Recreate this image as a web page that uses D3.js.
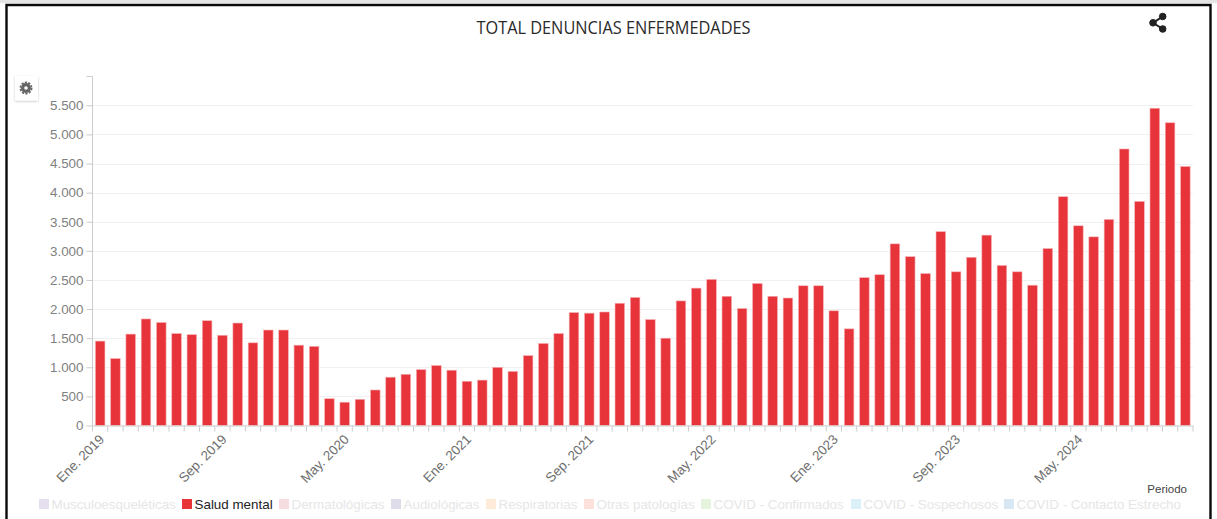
<!DOCTYPE html>
<html><head><meta charset="utf-8">
<script src="https://cdn.jsdelivr.net/npm/d3@7/dist/d3.min.js"></script>
<style>
html,body{margin:0;padding:0;background:#fff;overflow:hidden}
svg{display:block}
text{font-family:"Liberation Sans",Arial,sans-serif}
</style></head><body>
<svg id="c" width="1217" height="519"></svg>
<script>
const chartTitle = "TOTAL DENUNCIAS ENFERMEDADES";
const months = ["Ene.","Feb.","Mar.","Abr.","May.","Jun.","Jul.","Ago.","Sep.","Oct.","Nov.","Dic."];
const years = [2019,2020,2021,2022,2023,2024];
const saludMental = [1450,1150,1570,1830,1770,1580,1560,1800,1550,1760,1420,1640,
  1640,1380,1360,460,400,450,610,830,880,960,1030,950,
  760,780,1000,930,1200,1410,1580,1940,1930,1950,2100,2200,
  1820,1500,2140,2360,2510,2220,2010,2440,2220,2190,2400,2400,
  1970,1660,2540,2590,3120,2900,2610,3330,2640,2890,3270,2750,
  2640,2410,3040,3930,3430,3240,3540,4750,3850,5450,5200,4450];
const yTicks = [0,500,1000,1500,2000,2500,3000,3500,4000,4500,5000,5500];
const legendNames = ["Musculoesqueléticas","Salud mental","Dermatológicas","Audiológicas","Respiratorias","Otras patologías","COVID - Confirmados","COVID - Sospechosos","COVID - Contacto Estrecho"];
const legendColors = ["#e6dff0","#e9343a","#f6dcdf","#dedce9","#fdebd8","#fde1db","#e6f4de","#dcf0f8","#d9e7f3"];
const legendX = [38,181,278,390,485,583,700,850,1003];

const categories = years.flatMap(y => months.map(m => m+" "+y));
const svg = d3.select("#c");
const defs = svg.append("defs");
const f = defs.append("filter").attr("id","sh").attr("x","-30%").attr("y","-30%").attr("width","160%").attr("height","160%");
f.append("feDropShadow").attr("dx",0).attr("dy",1).attr("stdDeviation",1).attr("flood-color","#000").attr("flood-opacity",.22);

// frame
svg.append("rect").attr("x",0).attr("y",0).attr("width",1217).attr("height",519).attr("fill","#fff");
svg.append("rect").attr("x",0).attr("y",0).attr("width",1217).attr("height",3).attr("fill","#e4e4e4");
svg.append("path").attr("d","M6.5,519V5H1210.5V519").attr("fill","none").attr("stroke","#0a0a0a").attr("stroke-width",2.4);

const left=92.5,right=1193,top0=76,bottom=425.5;
const x = d3.scaleBand().domain(categories).range([left,right]);
const y = d3.scaleLinear().domain([0,6000]).range([bottom,top0+0.2]);

// grid
const g = svg.append("g");
g.selectAll(".grid").data(yTicks.slice(1)).join("line")
 .attr("x1",left).attr("x2",right).attr("y1",d=>Math.round(y(d))+.5).attr("y2",d=>Math.round(y(d))+.5)
 .attr("stroke","#f0f0f0");

// bars
const bw=9.6;
g.selectAll(".bar").data(saludMental).join("rect")
 .attr("x",(d,i)=>x(categories[i])+x.bandwidth()/2-bw/2)
 .attr("width",bw)
 .attr("y",d=>y(d)).attr("height",d=>bottom-y(d))
 .attr("fill","#e7343a").attr("stroke","#f7b3b6").attr("stroke-width",.6);

// y axis
const ya = g.append("g").attr("transform",`translate(${left},0)`)
 .call(d3.axisLeft(y).tickValues(yTicks).tickSize(6).tickPadding(3).tickFormat(d=>d3.format(",")(d).replace(/,/g,".")));
ya.select(".domain").attr("stroke","#ccc").attr("d",`M-6,${top0+.5}H0V${bottom}`);
ya.selectAll(".tick line").attr("stroke","#ccc");
ya.selectAll("text").attr("fill","#7f7f7f").style("font-size","13.4px").style("font-family",'"Liberation Sans",Arial,sans-serif');

// x axis
const xa = g.append("g").attr("transform",`translate(0,${bottom})`)
 .call(d3.axisBottom(x).tickValues(categories).tickSize(6).tickFormat(d=>""));
xa.select(".domain").attr("stroke","#ccc").attr("d",`M${left},.5H${right}`);
xa.selectAll(".tick").attr("transform",d=>`translate(${x(d)},0)`);
xa.selectAll(".tick line").attr("stroke","#ccc");
g.append("line").attr("x1",right).attr("x2",right).attr("y1",bottom).attr("y2",bottom+6).attr("stroke","#ccc");
g.selectAll(".xl").data(categories.filter((d,i)=>i%8===0)).join("text")
 .attr("transform",d=>`translate(${x(d)+6},${bottom+8}) rotate(-45)`)
 .attr("text-anchor","end").attr("dy",".7em").attr("fill","#6e6e6e").style("font-size","13.4px")
 .text(d=>d);

// title
svg.append("text").attr("x",613.5).attr("y",34).attr("text-anchor","middle").attr("fill","#2a2a2a")
 .style("font-family",'"Open Sans",sans-serif').style("font-size","19px").attr("textLength",274).attr("lengthAdjust","spacingAndGlyphs").text(chartTitle);

// share icon
const share = svg.append("g").attr("fill","#222").attr("stroke","#222");
[[1162.7,16.5],[1153,22.8],[1162.7,29]].forEach(p=>share.append("circle").attr("cx",p[0]).attr("cy",p[1]).attr("r",3.3));
share.append("path").attr("fill","none").attr("stroke-width",2).attr("d","M1162.7,16.5L1153,22.8L1162.7,29");

// settings button
svg.append("rect").attr("x",15).attr("y",76).attr("width",23).attr("height",24.5).attr("fill","#fff").attr("filter","url(#sh)");
svg.append("circle").attr("cx",26).attr("cy",88).attr("r",3.4).attr("fill","none").attr("stroke","#666").attr("stroke-width",3.2);
svg.append("circle").attr("cx",26).attr("cy",88).attr("r",5.6).attr("fill","none").attr("stroke","#666").attr("stroke-width",1.8).attr("stroke-dasharray","2.2 1.3");

// axis name
svg.append("text").attr("x",1187).attr("y",493).attr("text-anchor","end").attr("fill","#444").style("font-size","11.5px").text("Periodo");

// legend
const lg = svg.append("g");
legendNames.forEach((n,i)=>{
  lg.append("rect").attr("x",legendX[i]+1).attr("y",499).attr("width",10).attr("height",10).attr("fill",legendColors[i]);
  lg.append("text").attr("x",legendX[i]+13.5).attr("y",508.5).attr("fill",i===1?"#222":"#e6e6e6").style("font-size","13.4px").text(n);
});
</script>
</body></html>
